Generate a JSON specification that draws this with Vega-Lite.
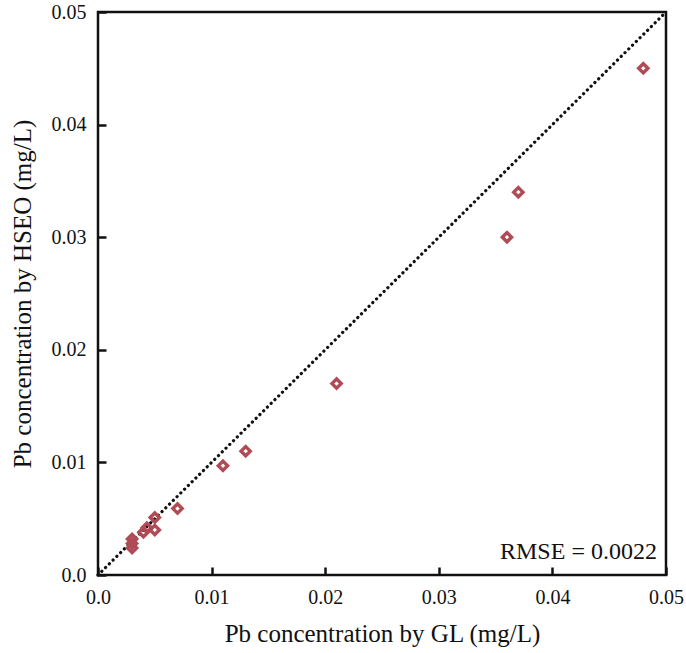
{
  "$schema": "https://vega.github.io/schema/vega-lite/v6.json",
  "width": 568,
  "height": 563,
  "autosize": "none",
  "padding": {"left": 98, "top": 12, "right": 20, "bottom": 78},
  "background": "white",
  "config": {
    "view": {"stroke": "#111", "strokeWidth": 2.5},
    "font": "Liberation Serif",
    "axis": {
      "labelFont": "Liberation Serif",
      "titleFont": "Liberation Serif",
      "labelFontSize": 20,
      "titleFontSize": 25,
      "titleFontWeight": "normal",
      "labelColor": "#111",
      "titleColor": "#111",
      "grid": false,
      "domain": false,
      "tickColor": "#111",
      "tickWidth": 2.5,
      "tickSize": -8,
      "labelFlush": false
    }
  },
  "layer": [
    {
      "data": {"values": [{"x0": 0, "y0": 0, "x1": 0.05, "y1": 0.05}]},
      "mark": {"type": "rule", "color": "#111", "strokeWidth": 3.2, "strokeDash": [0.1, 5.2], "strokeCap": "round"},
      "encoding": {
        "x": {"field": "x0", "type": "quantitative", "scale": {"domain": [0, 0.05], "nice": false}},
        "y": {"field": "y0", "type": "quantitative", "scale": {"domain": [0, 0.05], "nice": false}},
        "x2": {"field": "x1"},
        "y2": {"field": "y1"}
      }
    },
    {
      "data": {"values": [
        {"gl": 0.048, "hseo": 0.045},
        {"gl": 0.037, "hseo": 0.034},
        {"gl": 0.036, "hseo": 0.030},
        {"gl": 0.021, "hseo": 0.017},
        {"gl": 0.013, "hseo": 0.011},
        {"gl": 0.011, "hseo": 0.0097},
        {"gl": 0.007, "hseo": 0.0059},
        {"gl": 0.005, "hseo": 0.0051},
        {"gl": 0.005, "hseo": 0.0040},
        {"gl": 0.0043, "hseo": 0.0042},
        {"gl": 0.004, "hseo": 0.0038},
        {"gl": 0.003, "hseo": 0.0032},
        {"gl": 0.003, "hseo": 0.0028},
        {"gl": 0.003, "hseo": 0.0024}
      ]},
      "mark": {"type": "point", "shape": "diamond", "filled": false, "stroke": "#b04a55", "strokeWidth": 3.4, "size": 85, "opacity": 1},
      "encoding": {
        "x": {
          "field": "gl", "type": "quantitative",
          "scale": {"domain": [0, 0.05], "nice": false},
          "axis": {"values": [0, 0.01, 0.02, 0.03, 0.04, 0.05], "labelExpr": "datum.value == 0 ? '0.0' : format(datum.value, '.2f')", "title": "Pb concentration by GL (mg/L)", "labelPadding": 20, "titlePadding": 14}
        },
        "y": {
          "field": "hseo", "type": "quantitative",
          "scale": {"domain": [0, 0.05], "nice": false},
          "axis": {"values": [0, 0.01, 0.02, 0.03, 0.04, 0.05], "labelExpr": "datum.value == 0 ? '0.0' : format(datum.value, '.2f')", "title": "Pb concentration by HSEO (mg/L)", "labelPadding": 20, "titlePadding": 16}
        }
      }
    },
    {
      "data": {"values": [{"x": 0.0492, "y": 0.001, "label": "RMSE = 0.0022"}]},
      "mark": {"type": "text", "align": "right", "baseline": "bottom", "fontSize": 24, "font": "Liberation Serif", "color": "#111"},
      "encoding": {
        "x": {"field": "x", "type": "quantitative"},
        "y": {"field": "y", "type": "quantitative"},
        "text": {"field": "label"}
      }
    }
  ]
}
